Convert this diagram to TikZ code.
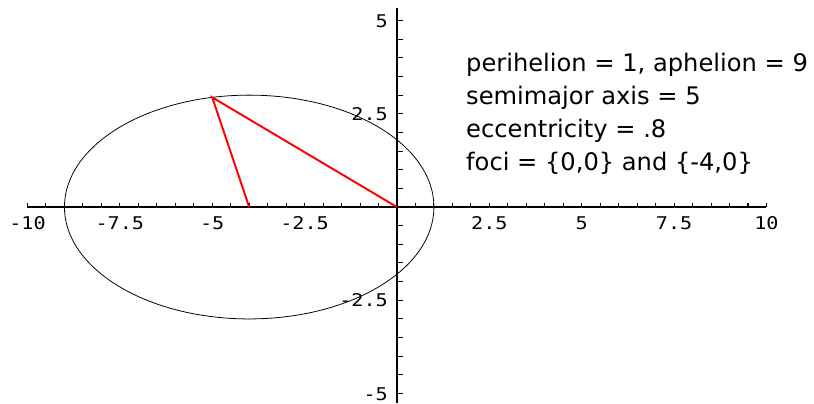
\documentclass[tikz,border=0pt]{standalone}
\usepackage{fontspec}
\setmainfont{DejaVu Sans}
\newfontfamily\tickfont[FakeStretch=1.15]{DejaVu Sans Mono}
\tikzset{
  axisline/.style={line width=1.3pt, black},
  tickmark/.style={line width=0.8pt, black},
  ticklabel/.style={inner sep=0pt, font=\tickfont\fontsize{13.5}{16}\selectfont},
  infotext/.style={inner sep=0pt, anchor=base west, font=\fontsize{18.6}{22}\selectfont},
  orbit/.style={line width=0.6pt, black},
  radiusline/.style={line width=1.5pt, red}
}
\begin{document}
\begin{tikzpicture}[x=1cm, y=1.0095cm]
\useasboundingbox (-10.744,-5.255) rectangle (11.286,5.550);
% axes
\coordinate (xl) at (-10,0);
\coordinate (xr) at (10,0);
\coordinate (yb) at (0,-5.255);
\coordinate (yt) at (0,5.33);
\draw[axisline] (xl) -- (xr);
\draw[axisline] (yb) -- (yt);
% ticks
\foreach \t in {-10,-9.5,...,10.1} {
  \draw[tickmark] (\t,0) -- ++(0,0.11);
}
\foreach \t in {-5,-4.5,...,5.1} {
  \draw[tickmark] (0,\t) -- ++(0.16,0);
}
% tick labels
\node[ticklabel, anchor=base] (lxm10) at (-10,-0.59) {-10};
\node[ticklabel, anchor=base] (lxm75) at (-7.5,-0.59) {-7.5};
\node[ticklabel, anchor=base] (lxm5) at (-5,-0.59) {-5};
\node[ticklabel, anchor=base] (lxm25) at (-2.5,-0.59) {-2.5};
\node[ticklabel, anchor=base] (lx25) at (2.5,-0.59) {2.5};
\node[ticklabel, anchor=base] (lx5) at (5,-0.59) {5};
\node[ticklabel, anchor=base] (lx75) at (7.5,-0.59) {7.5};
\node[ticklabel, anchor=base] (lx10) at (10,-0.59) {10};
\node[ticklabel, anchor=base east] (ly5) at (-0.24,4.826) {5};
\node[ticklabel, anchor=base east] (ly25) at (-0.24,2.326) {2.5};
\node[ticklabel, anchor=base east] (lym25) at (-0.24,-2.674) {-2.5};
\node[ticklabel, anchor=base east] (lym5) at (-0.24,-5.174) {-5};
% orbit
\coordinate (C) at (-4,0);
\draw[orbit] (C) ellipse [x radius=5, y radius=3];
% foci and point
\coordinate (F1) at (0,0);
\coordinate (F2) at (-4,0);
\coordinate (P) at (-5,2.9394);
\draw[radiusline] (F1) -- (P) -- (F2);
% info text
\node[infotext] (t1) at (1.867,3.630) {perihelion = 1, aphelion = 9};
\node[infotext] (t2) at (1.867,2.751) {semimajor axis = 5};
\node[infotext] (t3) at (1.867,1.871) {eccentricity = .8};
\node[infotext] (t4) at (1.867,0.992) {foci = \{0,0\} and \{-4,0\}};
\end{tikzpicture}
\end{document}
